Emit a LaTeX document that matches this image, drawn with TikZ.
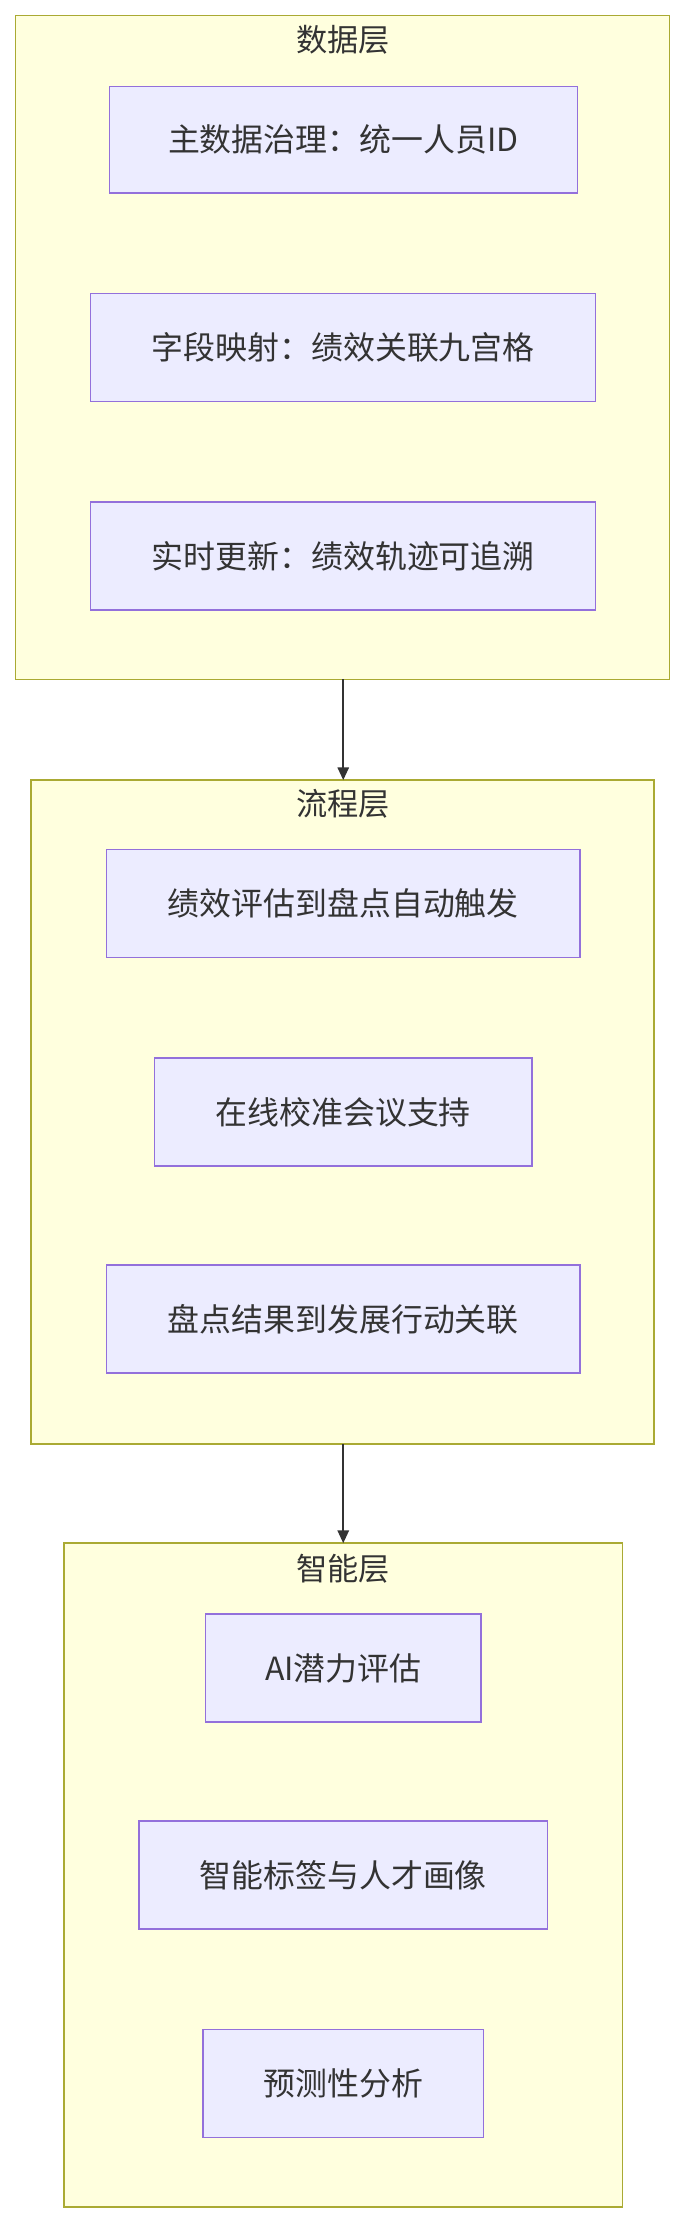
\documentclass[tikz,border=0pt]{standalone}
\usepackage{fontspec}
\setmainfont{Noto Sans CJK SC}
\usetikzlibrary{arrows.meta}
\definecolor{grpfill}{HTML}{FFFFDE}
\definecolor{grpline}{HTML}{AAAA33}
\definecolor{nfill}{HTML}{ECECFF}
\definecolor{nline}{HTML}{9370DB}
\definecolor{txt}{HTML}{333333}
\begin{document}
\begin{tikzpicture}[x=1pt,y=-1pt,
  grp/.style={draw=grpline,fill=grpfill,line width=1pt},
  box/.style={draw=nline,fill=nfill,line width=1pt},
  lbl/.style={text=txt,font=\fontsize{22.5}{26}\selectfont},
  ttl/.style={text=txt,font=\fontsize{22}{26}\selectfont},
  arr/.style={draw=txt,line width=1.3pt,-{Triangle[length=9pt,width=8pt]}}]
\useasboundingbox (0,0) rectangle (483,1568);
% groups
\draw[grp] (11,11) rectangle (472,479); \coordinate (g1b) at (242,479);
\node[ttl] (t1) at (242,28) {数据层};
\draw[grp] (22,550) rectangle (461,1018); \coordinate (g2t) at (242,550); \coordinate (g2b) at (242,1018);
\node[ttl] (t2) at (242,567) {流程层};
\draw[grp] (45,1088) rectangle (439,1556); \coordinate (g3t) at (242,1088);
\node[ttl] (t3) at (242,1106) {智能层};
% nodes
\newcommand{\bx}[6]{\draw[box] (#2,#3) rectangle (#4,#5); \node[lbl] (#1) at ({(#2+#4)/2},{(#3+#5)/2}) {#6};}
\bx{a1}{77}{61}{407}{136}{主数据治理：统一人员ID}
\bx{a2}{64}{207}{420}{283}{字段映射：绩效关联九宫格}
\bx{a3}{64}{354}{420}{430}{实时更新：绩效轨迹可追溯}
\bx{b1}{75}{599}{409}{675}{绩效评估到盘点自动触发}
\bx{b2}{109}{746}{375}{822}{在线校准会议支持}
\bx{b3}{75}{892}{409}{968}{盘点结果到发展行动关联}
\bx{c1}{145}{1138}{339}{1214}{AI潜力评估}
\bx{c2}{98}{1284}{386}{1360}{智能标签与人才画像}
\bx{c3}{143}{1431}{341}{1507}{预测性分析}
\draw[arr] (g1b) -- (g2t);
\draw[arr] (g2b) -- (g3t);
\end{tikzpicture}
\end{document}
